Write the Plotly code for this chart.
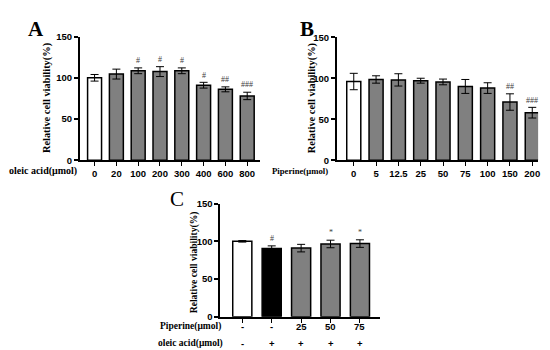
import plotly.graph_objects as go

W, H = 550, 350

# Panel A data
a_cats = ["0", "20", "100", "200", "300", "400", "600", "800"]
a_vals = [100, 104.5, 108.5, 107.5, 108.5, 91, 86, 78]
a_errs = [4, 6, 3.5, 6, 3.5, 3.5, 3, 4.5]
a_marks = ["", "", "#", "#", "#", "#", "##", "###"]
a_colors = ["white", "#808080", "#808080", "#808080", "#808080", "#808080", "#808080", "#808080"]

# Panel B data
b_cats = ["0", "5", "12.5", "25", "50", "75", "100", "150", "200"]
b_vals = [96, 98.5, 98, 97, 95.5, 90, 88, 71, 58]
b_errs = [10, 4.5, 7.5, 3, 3.5, 8.5, 6.5, 10, 6.5]
b_marks = ["", "", "", "", "", "", "", "##", "###"]
b_colors = ["white"] + ["#808080"] * 8

# Panel C data
c_cats = ["c1", "c2", "c3", "c4", "c5"]
c_piperine = ["-", "-", "25", "50", "75"]
c_oleic = ["-", "+", "+", "+", "+"]
c_vals = [100, 90.5, 91, 96.5, 97]
c_errs = [1, 3.5, 5, 5, 5]
c_marks = ["", "#", "", "*", "*"]
c_colors = ["white", "black", "#808080", "#808080", "#808080"]

fig = go.Figure()


def px_x(p):
    return p / W


def px_y(p):
    return 1 - p / H


panels = [
    dict(cats=a_cats, vals=a_vals, errs=a_errs, marks=a_marks, colors=a_colors,
         xd=[px_x(72), px_x(253)], yd=[px_y(151), px_y(23.3)], xr=[-0.68, 7.59], bw=0.64,
         xa="x", ya="y"),
    dict(cats=b_cats, vals=b_vals, errs=b_errs, marks=b_marks, colors=b_colors,
         xd=[px_x(330), px_x(532)], yd=[px_y(151), px_y(24)], xr=[-0.76, 8.26], bw=0.63,
         xa="x2", ya="y2"),
    dict(cats=c_cats, vals=c_vals, errs=c_errs, marks=c_marks, colors=c_colors,
         xd=[px_x(213), px_x(373)], yd=[px_y(312.7), px_y(195.7)], xr=[-0.75, 4.67], bw=0.65,
         xa="x3", ya="y3"),
]

FONT_SANS = "Liberation Sans"
FONT_SERIF = "Liberation Serif"
TICK_SIZE = 9.5

annotations = []
for i, p in enumerate(panels):
    fig.add_trace(go.Bar(
        x=p["cats"], y=p["vals"], width=p["bw"],
        marker=dict(color=p["colors"], line=dict(color="black", width=1.5)),
        error_y=dict(type="data", array=p["errs"], color="black", thickness=1, width=4),
        xaxis=p["xa"], yaxis=p["ya"], showlegend=False,
    ))
    for k, (v, e, m) in enumerate(zip(p["vals"], p["errs"], p["marks"])):
        if m:
            annotations.append(dict(
                x=k, y=v + e + 1.0, xref=p["xa"], yref=p["ya"], text=m, showarrow=False,
                yanchor="bottom", font=dict(family=FONT_SERIF, size=8, color="#404040"),
            ))
    suffix = "" if i == 0 else str(i + 1)
    fig.update_layout(**{
        "xaxis" + suffix: dict(
            domain=p["xd"], anchor=p["ya"], type="category", range=p["xr"],
            showline=True, linecolor="black", linewidth=1.5, ticks="outside", ticklen=4,
            tickwidth=1, tickcolor="black", showgrid=False, zeroline=False,
            showticklabels=(i != 2),
            tickfont=dict(family=FONT_SANS, size=TICK_SIZE, color="black", weight="bold"),
        ),
        "yaxis" + suffix: dict(
            domain=p["yd"], anchor=p["xa"], range=[0, 150], tickvals=[0, 50, 100, 150],
            showline=True, linecolor="black", linewidth=1.5, ticks="outside", ticklen=4,
            tickwidth=1.5, tickcolor="black", showgrid=False, zeroline=False,
            tickfont=dict(family=FONT_SANS, size=TICK_SIZE, color="black", weight="bold"),
        ),
    })

# y-axis titles
for x0, y0, sz in [(39, 87, 10.4), (305, 87, 10.4), (187, 256, 9.6)]:
    annotations.append(dict(
        x=px_x(x0), y=px_y(y0), xref="paper", yref="paper", text="Relative cell viability(%)",
        textangle=-90, showarrow=False, xanchor="center", yanchor="middle",
        font=dict(family=FONT_SERIF, size=sz, color="black", weight="bold"),
    ))

# panel letters
for letter, x0, y0, wt in [("A", 28, 16, "bold"), ("B", 300, 16, "bold"), ("C", 170, 191, "normal")]:
    annotations.append(dict(
        x=px_x(x0), y=px_y(y0), xref="paper", yref="paper", text=letter, showarrow=False,
        xanchor="center", yanchor="middle",
        font=dict(family=FONT_SERIF, size=21, color="black", weight=wt),
    ))

# row labels
for txt, x0, y0, sz in [("oleic acid(μmol)", 71, 162, 10), ("Piperine(μmol)", 323, 162, 8.7),
                        ("Piperine(μmol)", 216, 323, 9.5), ("oleic acid(μmol)", 218, 340, 9.5)]:
    annotations.append(dict(
        x=px_x(x0), y=px_y(y0), xref="paper", yref="paper", text=txt, showarrow=False,
        xanchor="right", yanchor="middle",
        font=dict(family=FONT_SERIF, size=sz, color="black", weight="bold"),
    ))

# panel C category rows
for k, (pp, oa) in enumerate(zip(c_piperine, c_oleic)):
    annotations.append(dict(
        x=k, y=px_y(323), xref="x3", yref="paper", text=pp, showarrow=False,
        yanchor="middle", font=dict(family=FONT_SANS, size=TICK_SIZE, color="black", weight="bold"),
    ))
    annotations.append(dict(
        x=k, y=px_y(340), xref="x3", yref="paper", text=oa, showarrow=False,
        yanchor="middle", font=dict(family=FONT_SANS, size=TICK_SIZE, color="black", weight="bold"),
    ))

fig.update_layout(
    width=W, height=H, margin=dict(l=0, r=0, t=0, b=0),
    paper_bgcolor="white", plot_bgcolor="white",
    annotations=annotations, bargap=0.3,
)

fig.write_html("out.html")
